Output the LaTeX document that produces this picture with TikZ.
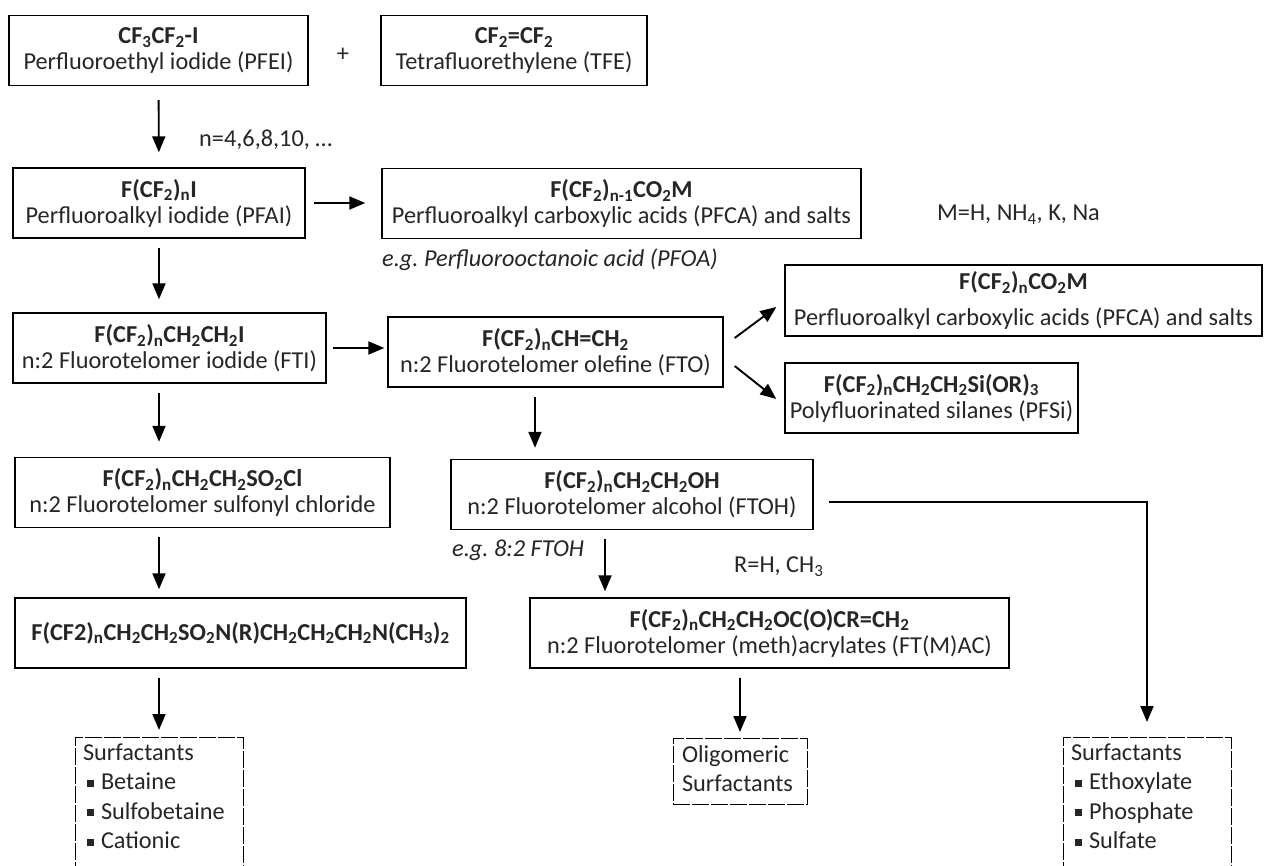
\documentclass[tikz,border=0pt]{standalone}
\usepackage{fontspec}
\setmainfont{Carlito}
\usepackage{tikz}
\usetikzlibrary{arrows.meta}

\newcommand{\tsub}[1]{\textsubscript{#1}}
\newcommand{\sq}{\hspace*{4pt}\rule[3pt]{7pt}{7pt}\hspace{7pt}}

\begin{document}
\begin{tikzpicture}[x=1pt, y=-1pt, >={Triangle[length=16pt,width=13pt]},
  every node/.style={font=\fontsize{24.3}{26}\selectfont, text=black!85},
  box/.style={draw, line width=1.4pt, minimum height=70pt, inner sep=3pt, align=center},
  dbox/.style={draw, line width=1pt, dash pattern=on 17pt off 2pt, inner xsep=8pt, inner ysep=6pt,
    align=left, anchor=north, font=\fontsize{24.3}{29.5}\selectfont},
  note/.style={anchor=west, inner sep=0pt},
  link/.style={->, line width=1.9pt},
  flow/.style={link, shorten <=9pt, shorten >=10pt}]
  \useasboundingbox (0,0) rectangle (1264,865);
  \clip (0,0) rectangle (1264,865);
  % Top: starting materials
  \node[box, minimum width=299pt] (pfei) at (158.5,50.5) {\textbf{CF\tsub{3}CF\tsub{2}-I}\\Perfluoroethyl iodide (PFEI)};
  \node (plus) at (343,55) {+};
  \node[box, minimum width=266pt] (tfe) at (514,50.5) {\textbf{CF\tsub{2}=CF\tsub{2}}\\Tetrafluorethylene (TFE)};
  \node[note] (nlab) at (199,140) {n=4,6,8,10, …};
  % Iodides and acids
  \node[box, minimum width=292pt] (pfai) at (159,203) {\textbf{F(CF\tsub{2})\tsub{n}I}\\Perfluoroalkyl iodide (PFAI)};
  \node[box, minimum width=479pt] (pfca) at (621.5,203.5) {\textbf{F(CF\tsub{2})\tsub{n-1}CO\tsub{2}M}\\Perfluoroalkyl carboxylic acids (PFCA) and salts};
  \node[note, font=\fontsize{24.3}{26}\selectfont\itshape] (pfoa) at (382,260) {e.g.\ Perfluorooctanoic acid (PFOA)};
  \node[note] (mlab) at (937,215) {M=H, NH\tsub{4}, K, Na};
  \node[box, minimum width=313pt] (fti) at (169.5,348) {\textbf{F(CF\tsub{2})\tsub{n}CH\tsub{2}CH\tsub{2}I}\\n:2 Fluorotelomer iodide (FTI)};
  \node[box, minimum width=335pt] (fto) at (555.5,352) {\textbf{F(CF\tsub{2})\tsub{n}CH=CH\tsub{2}}\\n:2 Fluorotelomer olefine (FTO)};
  \node[box, minimum width=477pt, minimum height=71pt] (pfcb) at (1023.5,300.5) {\textbf{F(CF\tsub{2})\tsub{n}CO\tsub{2}M}\\[10pt]Perfluoroalkyl carboxylic acids (PFCA) and salts};
  \node[box, minimum width=293pt] (pfsi) at (931.5,398) {\textbf{F(CF\tsub{2})\tsub{n}CH\tsub{2}CH\tsub{2}Si(OR)\tsub{3}}\\Polyfluorinated silanes (PFSi)};
  % Telomer derivatives
  \node[box, minimum width=375pt] (fsc) at (202.5,492.5) {\textbf{F(CF\tsub{2})\tsub{n}CH\tsub{2}CH\tsub{2}SO\tsub{2}Cl}\\n:2 Fluorotelomer sulfonyl chloride};
  \node[box, minimum width=362pt] (ftoh) at (632,494.5) {\textbf{F(CF\tsub{2})\tsub{n}CH\tsub{2}CH\tsub{2}OH}\\n:2 Fluorotelomer alcohol (FTOH)};
  \node[note, font=\fontsize{24.3}{26}\selectfont\itshape] (egftoh) at (452,550) {e.g.\ 8:2 FTOH};
  \node[box, minimum width=451pt] (amine) at (240.5,633) {\textbf{F(CF2)\tsub{n}CH\tsub{2}CH\tsub{2}SO\tsub{2}N(R)CH\tsub{2}CH\tsub{2}CH\tsub{2}N(CH\tsub{3})\tsub{2}}};
  \node[note] (rlab) at (734,567) {R=H, CH\tsub{3}};
  \node[box, minimum width=479pt] (ftac) at (769.5,633) {\textbf{F(CF\tsub{2})\tsub{n}CH\tsub{2}CH\tsub{2}OC(O)CR=CH\tsub{2}}\\n:2 Fluorotelomer (meth)acrylates (FT(M)AC)};
  % Bottom: surfactant products
  \node[dbox, text width=152pt] (surfa) at (159,737) {Surfactants\\\sq Betaine\\\sq Sulfobetaine\\\sq Cationic\rule[-30pt]{0pt}{0pt}};
  \node[dbox, text width=116pt, inner xsep=9pt, inner ysep=7pt] (olig) at (740,738) {Oligomeric\\Surfactants\rule[-6pt]{0pt}{0pt}};
  \node[dbox, text width=152pt] (surfb) at (1147,737) {Surfactants\\\sq Ethoxylate\\\sq Phosphate\\\sq Sulfate\rule[-30pt]{0pt}{0pt}};
  % Connectors
  \draw[flow, shorten <=14pt, shorten >=15pt] (pfei) -- (pfai);
  \draw[flow, shorten <=8pt, shorten >=16pt] (pfai.east) -- (pfai.east -| pfca.west);
  \draw[flow, shorten >=13pt] (pfai.south) -- (pfai.south |- fti.north);
  \draw[flow, shorten >=15pt] (fti.south -| pfai) -- (fsc.north -| pfai);
  \draw[flow, shorten >=8pt] (fsc.south -| pfai) -- (amine.north -| pfai);
  \draw[flow, shorten >=7pt] (amine.south -| surfa) -- (surfa.north);
  \draw[flow, shorten <=6pt, shorten >=3pt] (fti.east) -- (fti.east -| fto.west);
  \draw[link] ([xshift=11pt,yshift=14pt]fto.east) -- ([xshift=-8pt,yshift=-6.5pt]pfcb.west);
  \draw[link] ([xshift=11pt,yshift=-14pt]fto.east) -- ([xshift=-8pt,yshift=-1pt]pfsi.west);
  \draw[flow, shorten >=11pt] ([xshift=-20.5pt]fto.south) -- ([xshift=-20.5pt]fto.south |- ftoh.north);
  \draw[flow, shorten >=6pt] ([xshift=-27pt]ftoh.south) -- ([xshift=-27pt]ftoh.south |- ftac.north);
  \draw[flow, shorten >=6pt] (ftac.south -| olig) -- (olig.north);
  \draw[link, shorten >=15pt] ([xshift=15pt,yshift=-7.5pt]ftoh.east) -| (surfb.north);
\end{tikzpicture}
\end{document}
